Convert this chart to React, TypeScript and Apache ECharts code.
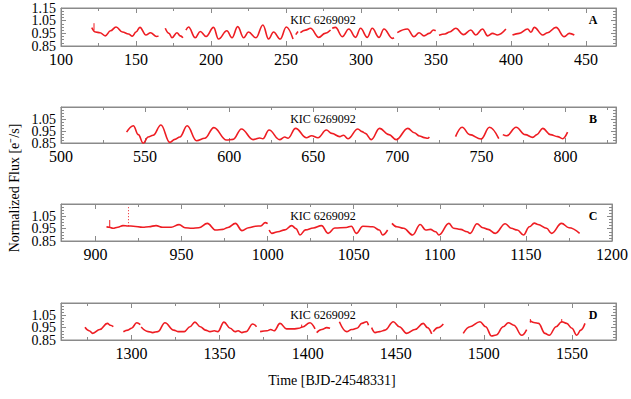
import React, { useEffect, useRef } from "react";
import * as echarts from "echarts";

// ---------- labels ----------
const starName = "KIC 6269092";
const panelLetters = ["A", "B", "C", "D"];
const yTitle = "Normalized Flux [e\u207B/s]";
const xTitle = "Time [BJD-24548331]";

// ---------- axes ----------
const xRanges = [
  [100, 470],
  [500, 830],
  [880, 1200],
  [1260, 1575],
];
const xMajorTicks = [
  [100, 150, 200, 250, 300, 350, 400, 450],
  [500, 550, 600, 650, 700, 750, 800],
  [900, 950, 1000, 1050, 1100, 1150, 1200],
  [1300, 1350, 1400, 1450, 1500, 1550],
];
const xMinorTicks = [
  [125, 175, 225, 275, 325, 375, 425],
  [525, 575, 625, 675, 725, 775, 825],
  [925, 975, 1025, 1075, 1125, 1175],
  [1275, 1325, 1375, 1425, 1475, 1525],
];
const yRange = [0.85, 1.15];
const yMajorTicks = [0.85, 0.95, 1.05, 1.15];
const yMinorTicks = [0.875, 0.9, 0.925, 0.975, 1.0, 1.025, 1.075, 1.1, 1.125];
const yLabelsTop = [0.85, 0.95, 1.05, 1.15];
const yLabelsOther = [0.85, 0.95, 1.05];

// ---------- data: panel A ----------
const segA1 = [[120.5,0.995],[123,0.96],[126,0.955],[129.5,0.93],[133,0.97],[136.7,1.0],[141,0.96],[145,0.945],[147.6,0.928],[150,0.96],[152.6,0.997],[156.6,0.937],[159.7,0.955],[163.7,0.925],[165,0.93]];
const segA2 = [[169.5,0.99],[172,0.95],[174,0.915],[177.3,0.955],[179.5,0.93],[181.3,0.915]];
const segA3 = [[183.3,0.975],[185,1.0],[189.5,0.915],[192.8,0.965],[196.8,0.925],[201.7,0.997],[205,0.905],[210.6,0.97],[214,0.915],[217.8,1.003],[221.8,0.915],[225,0.96],[230,0.915],[234.6,1.016],[238.4,0.905],[241.7,0.96],[246.2,0.905],[250.2,1.0],[254.7,0.905]];
const segA4 = [[256.5,0.94],[258,0.965]];
const segA5 = [[259.6,0.955],[263,0.975],[266.3,0.99],[271.9,0.918],[276,0.95],[279.7,0.976]];
const segA6 = [[280.8,0.99],[283,0.997],[287.5,0.924],[291.9,0.984],[296.4,0.918],[299.7,0.99],[304.2,0.918],[307.5,0.99],[312,0.918],[315.3,0.984],[320.9,0.91],[322,0.915]];
const segA7 = [[324.2,0.956],[330.9,0.984],[335.3,0.924],[338.7,0.955],[342,0.93],[345.5,0.95],[348.3,0.976],[349.8,0.97]];
const segA8 = [[352,0.935],[356,0.945],[359,0.96],[363.2,0.99],[368.3,0.94],[373.2,0.976],[376.5,0.937],[381,0.984],[384.4,0.93],[387.7,0.95],[391,0.937],[396.6,0.984]];
const segA9 = [[401,0.937],[405.5,0.95],[411.1,0.984],[413.3,0.958],[415.5,0.997],[421.1,0.937],[424.4,0.955],[430,0.997],[435.5,0.924],[438.9,0.95],[442.2,0.937]];
const spikesA = [[[122, 0.975], [122, 1.03]]];

// ---------- data: panel B ----------
const segB1 = [[539,0.94],[543,0.994],[546,0.92],[548.9,0.847],[551.8,0.9],[554.8,0.915],[559.4,1.0],[564.7,0.855],[567.7,0.88],[570.7,0.9],[575,0.994],[580.6,0.869],[585.5,0.889],[590.9,0.978],[598.4,0.875],[602.3,0.88],[607.3,0.967],[614.2,0.878],[618.2,0.892],[620,0.885],[623.7,0.958],[630,0.878],[633,0.9],[635,0.89],[639.5,0.972],[645.9,0.894],[649,0.91],[652.8,0.894],[657.8,0.958],[661,0.93],[665.7,0.903],[668,0.915],[670.6,0.886],[676.5,0.967],[679,0.945],[681,0.93],[684.5,0.878],[689.4,0.972],[695,0.92],[699.3,0.878],[706.2,0.972],[710,0.935],[713.2,0.908],[716,0.895],[718.1,0.89],[719,0.9]];
const segB2 = [[734.6,0.903],[738.5,0.981],[743,0.92],[749.8,0.883],[754.8,0.981],[760.3,0.886]];
const segB3 = [[762.7,0.92],[765,0.91],[770.6,0.981],[776,0.92],[780.5,0.897],[783,0.92],[786.4,0.972],[791,0.92],[795.3,0.903],[798.3,0.886],[801.2,0.94]];

// ---------- data: panel C ----------
const segC1 = [[906.4,0.966],[908,0.962],[910.2,0.953],[913,0.962],[916,0.975],[919,0.972],[922,0.97],[927.5,0.962],[931,0.966],[935.2,0.975],[939,0.962],[944,0.962],[948.6,0.983],[952,0.958],[956,0.953],[960,0.958],[965,0.993],[969.8,0.939],[974,0.944],[977,0.96],[981.3,0.993],[985.1,0.934],[989,0.958],[993,0.97],[996,0.972],[998.6,0.999],[1000,0.99]];
const segC2 = [[1000.9,0.939],[1002.4,0.912],[1006,0.925],[1010,0.94],[1014,0.975],[1016.5,0.95],[1018.8,0.899],[1022,0.94],[1026.5,0.955],[1031.3,0.975],[1035.1,0.912],[1039,0.955],[1045.7,0.96],[1048.6,0.97],[1051.5,0.912],[1055.3,0.97],[1061.1,0.966],[1064.9,0.939],[1066.8,0.899],[1069.7,0.939]];
const segC3 = [[1072.2,0.993],[1075,0.966],[1079,0.953],[1084.2,0.899],[1088.6,0.984],[1091.8,0.939],[1094.5,0.944],[1097.6,0.925],[1099.5,0.899],[1105.3,0.993],[1108,0.953],[1112,0.944],[1115.9,0.925],[1117.6,0.912],[1121.6,0.99],[1125,0.958],[1128,0.944],[1132.2,0.912],[1138,0.99],[1141.5,0.953],[1145,0.939],[1148.6,0.899],[1152,0.966],[1154.9,0.995],[1157,0.984],[1162,0.953],[1164.9,0.912],[1170.7,0.993],[1175,0.958],[1181.2,0.912]];
const spikesC = [[[908.3, 0.96], [908.3, 1.02]]];
const dottedSpikesC = [[[919.2, 0.97], [919.2, 1.128]]];

// ---------- data: panel D ----------
const segD1 = [[1273.6,0.953],[1276,0.925],[1278,0.904],[1282,0.935],[1286.3,0.985],[1288,0.97],[1289.7,0.958]];
const segD2 = [[1295.4,0.917],[1298,0.93],[1300,0.945],[1303,0.99],[1305,0.975]];
const segD3 = [[1305.5,0.955],[1309.5,0.918],[1312,0.91],[1315,0.918],[1319,0.99],[1324,0.93],[1326.6,0.918],[1330,0.918],[1333.2,0.958],[1336,0.995],[1339,0.958],[1342,0.93],[1344.6,0.918],[1347,0.925],[1349,0.918],[1352.5,0.995],[1356,0.945],[1358.8,0.918],[1360.5,0.925],[1362.6,0.91],[1365,0.918],[1368.8,0.98],[1371,0.958]];
const segD4 = [[1373,0.918],[1377,0.925],[1379,0.935],[1381,0.925],[1384.3,0.985],[1388,0.94],[1392,0.94],[1395,0.945],[1397,0.955],[1401.3,0.99],[1404.2,0.94]];
const segD5 = [[1405.1,0.91],[1408,0.935],[1410.8,0.95],[1412.7,0.945]];
const segD6 = [[1418,0.998],[1422.1,0.918],[1425,0.935],[1428,0.945],[1430.7,0.985],[1433.5,0.998],[1434.5,0.97]];
const segD7 = [[1436.3,0.95],[1438.2,0.91],[1441,0.918],[1443.9,0.93],[1448.6,0.998],[1452,0.958],[1456.2,0.904],[1460.9,0.935],[1465.6,0.985],[1468,0.95],[1470.4,0.9]];
const segD8 = [[1471.3,0.918],[1474,0.95],[1477,0.98]];
const segD9 = [[1488.3,0.904],[1492.1,0.958],[1497.8,0.998],[1501,0.958],[1504.4,0.882],[1507,0.89],[1511,0.958],[1513.9,0.99],[1517,0.97],[1521.5,0.888],[1524.3,0.935]];
const segD10 = [[1526.2,1.006],[1529,0.99],[1531,0.985],[1534.7,0.904],[1537.1,0.888],[1541,0.958],[1544.2,0.998],[1547,0.985],[1550,0.945],[1552.7,0.888],[1555,0.93],[1557.4,0.985]];
const spikesD = [[[1396.6, 0.95], [1396.6, 0.975]], [[1526.4, 0.99], [1526.4, 1.02]], [[1544.2, 0.99], [1544.2, 1.02]]];

const panelSegments = [
  [segA1, segA2, segA3, segA4, segA5, segA6, segA7, segA8, segA9],
  [segB1, segB2, segB3],
  [segC1, segC2, segC3],
  [segD1, segD2, segD3, segD4, segD5, segD6, segD7, segD8, segD9, segD10],
];
const panelSpikes = [spikesA, [], spikesC, spikesD];
const panelDottedSpikes = [[], [], dottedSpikesC, []];

// ---------- layout / style ----------
const W = 631;
const H = 399;
const gridTops = [8, 107, 204, 303];
const gridHeights = [38, 36, 37, 37];
const gridLeft = 61;
const gridRight = 15;
const FONT = "Liberation Serif, serif";
const AXIS_COLOR = "#8a8a8a";
const RED = "#ee1d23";

export default function App() {
  const ref = useRef<HTMLDivElement>(null);

  useEffect(() => {
    if (!ref.current) return;
    const chart = echarts.init(ref.current, undefined, { renderer: "svg" });

    const grid: any[] = [];
    const xAxis: any[] = [];
    const yAxis: any[] = [];
    const series: any[] = [];
    const graphic: any[] = [];

    panelSegments.forEach((segs, g) => {
      grid.push({
        left: gridLeft,
        right: gridRight,
        top: gridTops[g],
        height: gridHeights[g],
        show: true,
        borderColor: AXIS_COLOR,
        borderWidth: 1,
        backgroundColor: "transparent",
      });
      const [xmin, xmax] = xRanges[g];
      const xBase = {
        gridIndex: g,
        type: "value",
        min: xmin,
        max: xmax,
        splitLine: { show: false },
        axisLine: { show: true, lineStyle: { color: AXIS_COLOR, width: 1 } },
      };
      ["bottom", "top"].forEach((pos) => {
        xAxis.push({
          ...xBase,
          position: pos,
          axisTick: {
            show: true,
            inside: true,
            length: 5,
            customValues: xMajorTicks[g],
            lineStyle: { color: AXIS_COLOR },
          },
          axisLabel: {
            show: pos === "bottom",
            customValues: xMajorTicks[g],
            formatter: (v: number) => String(Math.round(v)),
            color: "#000",
            fontFamily: FONT,
            fontSize: 16,
            margin: 5,
            interval: 0,
            hideOverlap: false,
            showMinLabel: true,
            showMaxLabel: true,
          },
        });
        xAxis.push({
          ...xBase,
          position: pos,
          axisLine: { show: false },
          axisTick: {
            show: true,
            inside: true,
            length: 3,
            customValues: xMinorTicks[g],
            lineStyle: { color: AXIS_COLOR },
          },
          axisLabel: { show: false },
        });
      });
      const yBase = {
        gridIndex: g,
        type: "value",
        min: yRange[0],
        max: yRange[1],
        splitLine: { show: false },
        axisLine: { show: true, lineStyle: { color: AXIS_COLOR, width: 1 } },
      };
      ["left", "right"].forEach((pos) => {
        yAxis.push({
          ...yBase,
          position: pos,
          axisTick: {
            show: true,
            inside: true,
            length: 5,
            customValues: yMajorTicks,
            lineStyle: { color: AXIS_COLOR },
          },
          axisLabel: { show: false },
        });
        yAxis.push({
          ...yBase,
          position: pos,
          axisLine: { show: false },
          axisTick: {
            show: true,
            inside: true,
            length: 3,
            customValues: yMinorTicks,
            lineStyle: { color: AXIS_COLOR },
          },
          axisLabel: { show: false },
        });
      });
      // one label-only axis per tick label, so no label is dropped for overlap
      const labels = g === 0 ? yLabelsTop : yLabelsOther;
      labels.forEach((lv) => {
        yAxis.push({
          ...yBase,
          position: "left",
          axisLine: { show: false },
          axisTick: { show: false },
          axisLabel: {
            show: true,
            customValues: [lv],
            formatter: (v: number) => v.toFixed(2),
            color: "#000",
            fontFamily: FONT,
            fontSize: 14,
            lineHeight: 12,
            margin: 5,
            interval: 0,
            hideOverlap: false,
            showMinLabel: true,
            showMaxLabel: true,
          },
        });
      });

      const xi = g * 4;
      const yi = yAxis.length - labels.length - 4;
      segs.forEach((seg) => {
        series.push({
          type: "line",
          xAxisIndex: xi,
          yAxisIndex: yi,
          data: seg,
          showSymbol: false,
          smooth: 0.4,
          smoothMonotone: "x",
          silent: true,
          lineStyle: { color: RED, width: 1.6 },
          z: 3,
        });
      });
      panelSpikes[g].forEach((sp) => {
        series.push({
          type: "line",
          xAxisIndex: xi,
          yAxisIndex: yi,
          data: sp,
          showSymbol: false,
          silent: true,
          lineStyle: { color: RED, width: 1 },
          z: 3,
        });
      });
      panelDottedSpikes[g].forEach((sp) => {
        series.push({
          type: "line",
          xAxisIndex: xi,
          yAxisIndex: yi,
          data: sp,
          showSymbol: false,
          silent: true,
          lineStyle: { color: RED, width: 1, type: [1, 2] },
          z: 3,
        });
      });

      graphic.push({
        type: "text",
        x: 323,
        y: gridTops[g] + 12,
        style: {
          text: starName,
          fill: "#000",
          font: `12px ${FONT}`,
          textAlign: "center",
          textVerticalAlign: "middle",
        },
      });
      graphic.push({
        type: "text",
        x: 593,
        y: gridTops[g] + 12,
        style: {
          text: panelLetters[g],
          fill: "#000",
          font: `bold 12px ${FONT}`,
          textAlign: "center",
          textVerticalAlign: "middle",
        },
      });
    });

    graphic.push({
      type: "text",
      x: 14,
      y: 188,
      rotation: Math.PI / 2,
      style: {
        text: yTitle,
        fill: "#000",
        font: `14px ${FONT}`,
        textAlign: "center",
        textVerticalAlign: "middle",
      },
    });
    graphic.push({
      type: "text",
      x: 332,
      y: 380,
      style: {
        text: xTitle,
        fill: "#000",
        font: `14px ${FONT}`,
        textAlign: "center",
        textVerticalAlign: "middle",
      },
    });

    chart.setOption({
      animation: false,
      backgroundColor: "#fff",
      grid,
      xAxis,
      yAxis,
      series,
      graphic,
    });

    return () => chart.dispose();
  }, []);

  return (
    <div
      ref={ref}
      style={{ position: "fixed", left: 0, top: 0, width: W, height: H }}
    />
  );
}
